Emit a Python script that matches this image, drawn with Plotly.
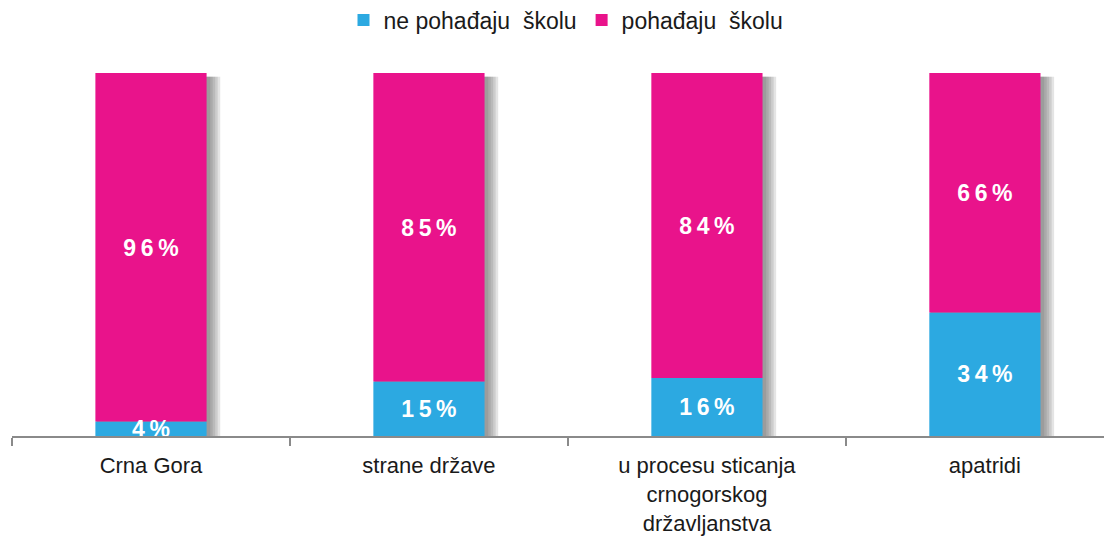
import plotly.graph_objects as go

categories = ["Crna Gora", "strane države", "u procesu sticanja<br>crnogorskog<br>državljanstva", "apatridi"]
ne_pohadjaju = [4, 15, 16, 34]
pohadjaju = [96, 85, 84, 66]
series_names = ["ne pohađaju  školu", "pohađaju  školu"]

BLUE = "#2CA9E1"
PINK = "#E9138B"
FONT = "Liberation Sans, Arial, sans-serif"
TS = "\u2009"

def pct(v):
    return TS.join(list(f"{v}%"))

fig = go.Figure()

totals = [a + b for a, b in zip(ne_pohadjaju, pohadjaju)]
# soft shadow layers to the right of each bar
for k in range(1, 6):
    fig.add_trace(go.Bar(
        x=categories, y=[t + 0.3 for t in totals], base=-1.3,
        width=0.4 + 0.009 * k, offset=-0.2 + 0.004,
        marker=dict(color="rgba(90,90,90,0.16)", line=dict(width=0)),
        showlegend=False, hoverinfo="skip"))

fig.add_trace(go.Bar(
    x=categories, y=ne_pohadjaju, base=0, name=series_names[0],
    width=0.4, offset=-0.2,
    marker=dict(color=BLUE, line=dict(width=0))))
fig.add_trace(go.Bar(
    x=categories, y=pohadjaju, base=ne_pohadjaju, name=series_names[1],
    width=0.4, offset=-0.2,
    marker=dict(color=PINK, line=dict(width=0))))

# value labels
lab_font = dict(color="white", size=23, family=FONT, weight="bold")
fig.add_trace(go.Scatter(
    x=categories, y=[v / 2 - 0.6 for v in ne_pohadjaju], mode="text",
    text=[pct(v) for v in ne_pohadjaju], showlegend=False, hoverinfo="skip",
    textfont=lab_font, cliponaxis=False))
fig.add_trace(go.Scatter(
    x=categories, y=[b + v / 2 - 0.8 for b, v in zip(ne_pohadjaju, pohadjaju)], mode="text",
    text=[pct(v) for v in pohadjaju], showlegend=False, hoverinfo="skip",
    textfont=lab_font, cliponaxis=False))

fig.update_layout(
    width=1112, height=536,
    margin=dict(l=4, r=0, t=65, b=108, autoexpand=False),
    barmode="overlay",
    paper_bgcolor="white", plot_bgcolor="white",
    font=dict(family=FONT, color="#1a1a1a"),
    legend=dict(orientation="h", x=0.5, xanchor="center", y=1.146, yref="paper",
                yanchor="middle", font=dict(size=23, family=FONT, color="#1a1a1a"),
                traceorder="normal", itemwidth=30, tracegroupgap=0),
    xaxis=dict(type="category", range=[-0.5, 3.486], showgrid=False, automargin=False,
               showline=True, linecolor="#8a8a8a", linewidth=2,
               ticks="outside", tickson="boundaries", ticklen=8, tickcolor="#8a8a8a",
               tickwidth=1.5, ticklabelstandoff=9,
               tickfont=dict(size=22, family=FONT, color="#1a1a1a")),
    yaxis=dict(range=[0, 100], visible=False, showgrid=False, zeroline=False, automargin=False),
    showlegend=True,
)

fig.write_html("out.html")
